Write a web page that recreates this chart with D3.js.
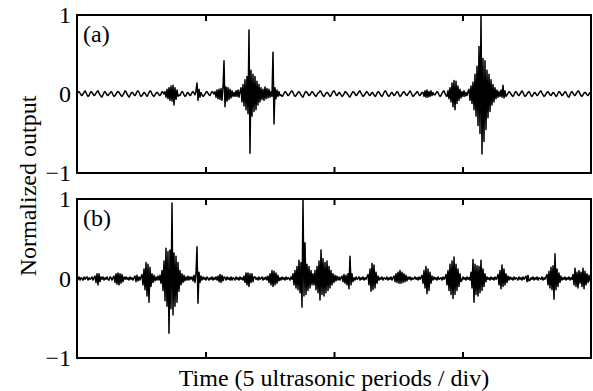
<!DOCTYPE html>
<html>
<head>
<meta charset="utf-8">
<script src="https://cdn.jsdelivr.net/npm/d3@7"></script>
<style>
  html, body { margin: 0; padding: 0; background: #fff; }
  svg { display: block; }
</style>
</head>
<body>
<div id="chart"></div>
<script>
// Tick values / labels
const xTicks = [1, 2, 3];                 // division marks (5 ultrasonic periods / div)
const xDomain = [0, 4];
const yTicks = [-1, 0, 1];
const yTickLabels = ['\u22121', '0', '1'];
const panelLabels = ['(a)', '(b)'];

// Normalized output in hundredths (one sample per pixel column)
const outputA = [
  // baseline
  0,2,3,1,-1,-2,0,2,4,2, -1,-3,-2,1,3,2,0,-2,-1,1, 3,4,1,-1,-3,-4,-1,2,3,1,
  -1,-2,0,1,3,2,-1,-3,-2,0, 2,3,2,0,-2,-3,-1,1,4,3, 0,-2,-4,-2,1,2,1,-1,-2,0,
  3,4,2,-1,-3,-2,0,2,1,-1, -3,-1,2,4,3,0,-2,-3,-1,1, 2,1,-1,-2,0,3,2,0,
  // small burst
  3,-4,6,-6,8,-8,10,-9,11,-14,8,-7,5,-3,
  -1,-2,1,3,2,-1,-3,-2,1,2,0,-2,-1,2,3,1,-1,
  4,14,-8,6,-4,2,
  -1,-3,-2,0,2,3,1,-1,-2,1,3,2,0,
  // spike group
  3,-4,5,-6,6,-7,7,-8,8,42,-16,9,-9,8,-7,6,-5,4,-3,
  2,-3,4,-3,5,-4,3,
  8,-10,12,-15,18,-20,22,-25,81,-75,30,-28,25,-22,22,-20,16,-14,12,-10,8,-7,
  6,-8,9,-6,7,-5,6,-4,3,
  -3,53,-38,8,-6,
  5,-3,3,-2,
  // baseline
  -1,-3,-2,1,3,2,0,-2,-1,1, 3,4,2,-1,-3,-2,0,2,3,1, -1,-3,-4,-1,2,3,2,0,-2,-1,
  1,3,2,0,-2,-3,-1,1,2,4, 3,0,-2,-3,-1,1,2,1,-1,-3, -2,1,3,4,2,-1,-2,0,2,1,
  -1,-3,-2,0,3,2,1,-1,-3,-4, -1,1,3,2,0,-2,-1,1,3,4, 1,-1,-3,-2,0,2,3,1,-1,-2,
  0,2,1,-1,-3,-2,1,3,2,0, -2,-3,-1,2,4,3,0,-2,-3,-1, 1,2,0,-2,-1,1,3,2,-1,-3,
  -2,0,2,3,1,-1,-2,0,2,4, 2,-1,-3,-2,0,1,3,2,-1,-2, 0,2,
  2,-3,4,-4,5,-4,3,-3,4,-2,2,-1,
  -1,1,3,2,-1,-3,-2,1,3,4,1,-2,-3,
  4,-6,8,-10,14,-16,17,-20,16,-12,10,-8,6,-5,3,
  -3,4,-3,2,-2,3,
  // main burst
  6,-8,10,-12,15,-20,25,-28,35,-40,60,-50,100,-76,45,-60,42,-45,30,-30,25,-22,18,-14,12,-10,8,
  -6,5,-4,3,-3,
  5,-4,11,-5,4,-3,
  // baseline
  -1,1,3,2,0,-2,-3,-1,2,3, 1,-1,-2,0,2,4,2,-1,-3,-2, 0,2,3,1,-2,-3,-1,1,2,0,
  -2,-1,1,3,4,1,-1,-3,-2,0, 2,3,1,-1,-2,0,2,1,-1,-3, -2,1,3,2,0,-2,-1,1,3,2,
  -1,-3,-4,-1,2,3,1,-1,-2,0, 2,4,3,0,-2,-3,-1,1,2,1, -1,-2,0,2,1
];

const outputB = [
  1,-1,2,-2,1,0,-2,2,-1,1,2,-2,1,-1,0,2,-2,1,
  3,-5,6,-8,6,-4,2,
  -1,2,-2,1,-1,2,-1,-2,2,1,-2,1,
  3,-5,6,-7,7,-8,6,-6,5,-4,2,
  -1,2,-1,1,-2,2,-1,1,-2,1,
  3,-4,4,-3,2,
  -2,2,
  5,-8,12,-14,20,-22,18,-30,14,-10,6,
  -5,4,-3,2,-2,3,-2,4,-6,
  10,-15,22,-28,38,-35,34,-69,36,-38,95,-46,32,-35,28,-30,20,-16,10,
  -8,6,-5,4,-3,2,-2,3,-2,2,-1,2,
  -3,4,-5,6,40,-31,8,-5,3,
  -2,2,-1,1,-2,2,0,-2,1,-1,2,-2,1,-1,2,-2,
  3,-4,5,-5,4,-3,2,
  1,-2,2,-1,1,-2,2,-2,1,0,-2,2,-1,1,-2,2,-1,1,-2,
  3,-5,7,-8,7,-10,6,-5,6,-4,2,
  2,-1,1,-2,2,-1,0,2,-2,1,-1,2,-2,
  3,-5,6,-8,10,-10,9,-8,7,-6,4,-3,
  1,-2,2,-1,1,-2,2,-1,1,0,-2,2,-1,
  6,-8,10,-12,15,-14,23,-18,20,-36,100,-22,45,-20,18,-15,15,-12,10,-8,
  6,-8,10,-14,15,-18,22,-27,36,-20,25,-22,20,-18,22,-15,15,-12,10,-8,6,
  -5,4,-3,3,-2,2,-2,1,
  3,-4,5,-6,4,-8,6,-13,28,-8,6,-4,
  1,-2,2,-1,0,2,-2,1,-1,2,-2,1,-1,2,
  5,-8,12,-16,19,-14,17,-12,8,-6,3,
  -2,1,-1,2,-2,1,0,-1,2,-2,1,-1,2,-2,1,
  3,-4,6,-5,8,-6,10,-6,8,-5,6,-4,4,-3,2,
  -1,2,-2,1,-1,0,2,-1,1,-2,2,-1,1,
  4,-6,10,-12,15,-19,12,-15,8,-6,3,
  -2,2,-1,1,-2,2,-1,0,1,-2,2,-1,1,
  5,-8,10,-15,18,-20,22,-25,27,-20,18,-15,12,-10,6,-4,
  -2,2,-1,1,-2,2,-1,1,-2,
  8,-12,24,-30,18,-20,16,-22,15,-18,23,-15,12,-10,6,-4,
  2,-1,1,-2,2,-1,1,-2,2,-1,1,
  5,-8,10,-13,17,-10,12,-8,6,-5,3,
  -2,2,-1,1,-2,2,-1,1,0,-2,2,-1,1,-2,2,-1,1,
  3,-4,4,-3,
  -2,1,-1,2,-2,1,-1,2,-2,1,0,-1,2,-2,1,-1,2,
  5,-8,9,-12,14,-14,16,-26,31,-14,12,-10,7,-5,3,
  -2,1,-1,2,-2,1,-1,2,-2,1,-1,
  5,-8,13,-10,8,-12,10,-6,8,-10,13,-13,9,-8,6,-5,4,-3,2
];

const width = 593, height = 391;
const left = 77, right = 591;
const panels = [
  { top: 15, bottom: 173, values: outputA, label: panelLabels[0] },
  { top: 199, bottom: 358, values: outputB, label: panelLabels[1] }
];
const font = '"Liberation Serif", "Times New Roman", serif';

const svg = d3.select('#chart')
  .append('svg')
  .attr('width', width)
  .attr('height', height);

const x = d3.scaleLinear().domain(xDomain).range([left, right]);

panels.forEach(p => {
  const y = d3.scaleLinear().domain([-1, 1]).range([p.bottom, p.top]);
  const n = p.values.length;
  const g = svg.append('g');

  // Trace
  const line = d3.line()
    .x((d, i) => x(xDomain[0] + i * (xDomain[1] - xDomain[0]) / (n - 1)))
    .y(d => y(d / 100));

  g.append('path')
    .datum(p.values)
    .attr('fill', 'none')
    .attr('stroke', '#000')
    .attr('stroke-width', 1.5)
    .attr('stroke-linejoin', 'round')
    .attr('d', line);

  // Inward ticks on top and bottom edges
  const axTop = g.append('g')
    .attr('transform', `translate(0,${p.top})`)
    .call(d3.axisTop(x).tickValues(xTicks).tickSize(-6).tickFormat(''));
  const axBottom = g.append('g')
    .attr('transform', `translate(0,${p.bottom})`)
    .call(d3.axisBottom(x).tickValues(xTicks).tickSize(-6).tickFormat(''));
  [axTop, axBottom].forEach(a => {
    a.select('.domain').remove();
    a.selectAll('line').attr('stroke', '#000').attr('stroke-width', 2);
  });

  // Y tick labels
  const axLeft = g.append('g')
    .attr('transform', `translate(${left},0)`)
    .call(d3.axisLeft(y).tickValues(yTicks).tickSize(0).tickPadding(6)
      .tickFormat((d, i) => yTickLabels[i]));
  axLeft.select('.domain').remove();
  axLeft.selectAll('text')
    .attr('font-family', font)
    .attr('font-size', 24)
    .attr('fill', '#000')
    .attr('dy', '0.33em');

  // Frame
  g.append('rect')
    .attr('x', left)
    .attr('y', p.top)
    .attr('width', right - left)
    .attr('height', p.bottom - p.top)
    .attr('fill', 'none')
    .attr('stroke', '#000')
    .attr('stroke-width', 2);

  // Panel label
  g.append('text')
    .attr('x', left + 6)
    .attr('y', p.top + 27)
    .attr('font-family', font)
    .attr('font-size', 24)
    .attr('fill', '#000')
    .text(p.label);
});

// Axis titles
svg.append('text')
  .attr('x', (left + right) / 2)
  .attr('y', 386)
  .attr('text-anchor', 'middle')
  .attr('font-family', font)
  .attr('font-size', 24)
  .attr('fill', '#000')
  .text('Time (5 ultrasonic periods / div)');

svg.append('text')
  .attr('transform', `translate(36,186) rotate(-90)`)
  .attr('text-anchor', 'middle')
  .attr('font-family', font)
  .attr('font-size', 24)
  .attr('fill', '#000')
  .text('Normalized output');
</script>
</body>
</html>
